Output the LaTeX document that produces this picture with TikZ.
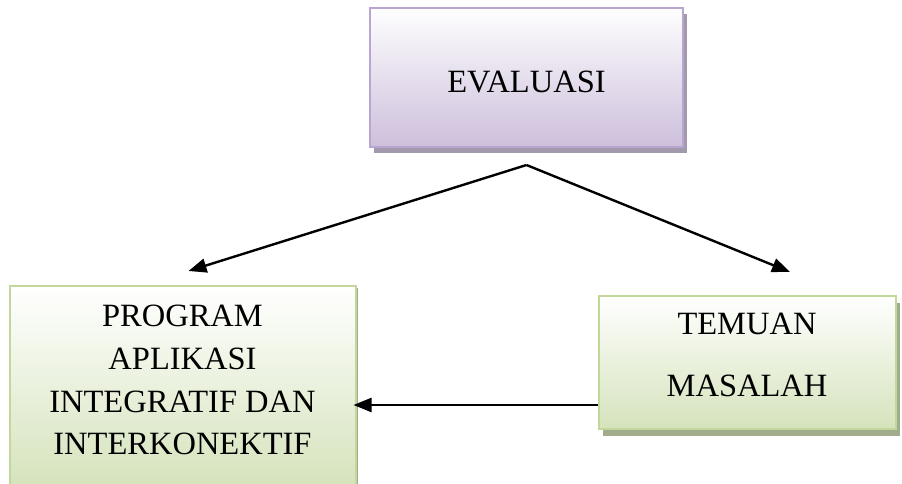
\documentclass[tikz,border=0pt]{standalone}
\usepackage{fontspec}
\setmainfont{Liberation Serif}
\usetikzlibrary{arrows.meta,shadows}

\definecolor{evalborder}{RGB}{184,166,208}
\definecolor{evalbottom}{RGB}{205,191,220}
\definecolor{evalshadow}{RGB}{163,153,173}
\definecolor{greenborder}{RGB}{195,214,155}
\definecolor{greenbottom}{RGB}{213,227,188}
\definecolor{greenshadow}{RGB}{160,172,140}

\tikzset{
  evalbox/.style={draw=evalborder, line width=2pt, top color=white!98!evalbottom, bottom color=evalbottom,
    drop shadow={shadow xshift=4pt, shadow yshift=-6pt, fill=evalshadow, opacity=1},
    minimum width=313pt, minimum height=139pt, inner sep=0pt, align=center},
  greenbox/.style={draw=greenborder, line width=2pt, top color=white, bottom color=greenbottom,
    inner sep=0pt, align=center},
  arrowline/.style={-{Triangle[length=18pt,width=14pt]}, line width=2.4pt, black}
}

\begin{document}
\begin{tikzpicture}[x=1pt, y=-1pt, font=\fontsize{32.5}{42.7}\selectfont]
\useasboundingbox (0,0) rectangle (902,484);

% Boxes
\node[evalbox, text height=30pt] (eval) at (526.5,77.5) {EVALUASI};
\node[greenbox, minimum width=346pt, minimum height=200pt, text depth=12pt,
  drop shadow={shadow xshift=2pt, shadow yshift=-2pt, fill=greenshadow, opacity=1}]
  (prog) at (182.5,386) {PROGRAM\\APLIKASI\\INTEGRATIF DAN\\INTERKONEKTIF};
\node[greenbox, minimum width=297pt, minimum height=133pt, text depth=14pt,
  drop shadow={shadow xshift=4pt, shadow yshift=-7pt, fill=greenshadow, opacity=1}]
  (temuan) at (747,362) {TEMUAN\\[19.3pt]MASALAH};

% Free ends of the connectors
\coordinate (apex) at ([yshift=-17pt]eval.south);
\coordinate (progtip) at ([xshift=6pt, yshift=14pt]prog.north);
\coordinate (temuantip) at ([xshift=43pt, yshift=22.5pt]temuan.north);
\coordinate (temuanout) at ([yshift=-43pt]temuan.west);
\coordinate (progin) at ([xshift=-3pt, yshift=-19pt]prog.east);

% Connectors
\draw[arrowline] (apex) -- (progtip);
\draw[arrowline] (apex) -- (temuantip);
\draw[arrowline] (temuanout) -- (progin);

\end{tikzpicture}
\end{document}
